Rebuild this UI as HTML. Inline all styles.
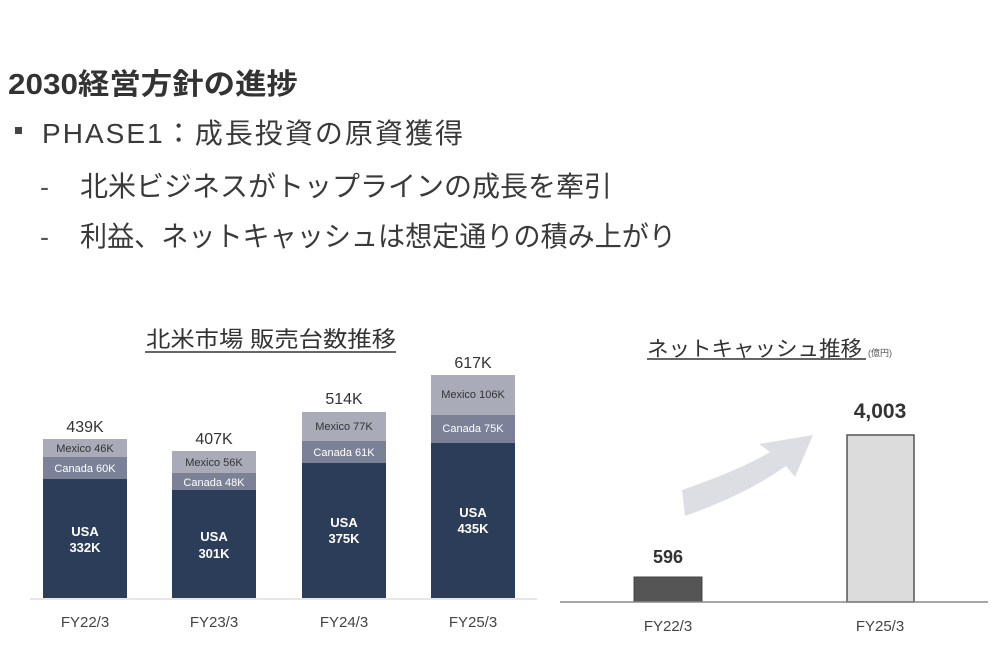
<!DOCTYPE html>
<html><head><meta charset="utf-8"><style>
html,body{margin:0;padding:0;background:#fff;width:1000px;height:667px;overflow:hidden}
</style></head><body>
<svg width="1000" height="667" viewBox="0 0 1000 667" xmlns="http://www.w3.org/2000/svg" font-family="'Liberation Sans','Noto Sans CJK JP',sans-serif">
<text x="8" y="94" font-size="29" font-weight="bold" fill="#333" textLength="290" lengthAdjust="spacingAndGlyphs">2030経営方針の進捗</text>
<rect x="15" y="127" width="7" height="7" fill="#444"/>
<text x="42" y="143" font-size="28" fill="#3a3a3a" textLength="421" lengthAdjust="spacing">PHASE1：成長投資の原資獲得</text>
<text x="40" y="196" font-size="27" fill="#555">-</text>
<text x="80" y="196" font-size="28" fill="#3a3a3a" textLength="532" lengthAdjust="spacing">北米ビジネスがトップラインの成長を牽引</text>
<text x="40" y="246" font-size="27" fill="#555">-</text>
<text x="80" y="246" font-size="28" fill="#3a3a3a" textLength="596" lengthAdjust="spacingAndGlyphs">利益、ネットキャッシュは想定通りの積み上がり</text>

<!-- left chart -->
<text x="146" y="347" font-size="22" fill="#333" textLength="250" lengthAdjust="spacingAndGlyphs">北米市場 販売台数推移</text>
<line x1="145" y1="352" x2="396" y2="352" stroke="#333" stroke-width="1.5"/>
<line x1="30" y1="599" x2="537" y2="599" stroke="#ddd" stroke-width="1.5"/>
<g font-size="11" text-anchor="middle">
<rect x="43" y="439" width="84" height="18" fill="#a9abb9"/><rect x="43" y="457" width="84" height="22" fill="#7b8196"/><rect x="43" y="479" width="84" height="119" fill="#2b3d58"/>
<text x="85" y="452" fill="#333">Mexico 46K</text><text x="85" y="472" fill="#fff">Canada 60K</text>
<text x="85" y="536" fill="#fff" font-weight="bold" font-size="13">USA</text><text x="85" y="552" fill="#fff" font-weight="bold" font-size="13">332K</text>
<text x="85" y="432" fill="#333" font-size="16">439K</text>

<rect x="172" y="451" width="84" height="22" fill="#a9abb9"/><rect x="172" y="473" width="84" height="17" fill="#7b8196"/><rect x="172" y="490" width="84" height="108" fill="#2b3d58"/>
<text x="214" y="466" fill="#333">Mexico 56K</text><text x="214" y="486" fill="#fff">Canada 48K</text>
<text x="214" y="541" fill="#fff" font-weight="bold" font-size="13">USA</text><text x="214" y="558" fill="#fff" font-weight="bold" font-size="13">301K</text>
<text x="214" y="444" fill="#333" font-size="16">407K</text>

<rect x="302" y="412" width="84" height="29" fill="#a9abb9"/><rect x="302" y="441" width="84" height="22" fill="#7b8196"/><rect x="302" y="463" width="84" height="135" fill="#2b3d58"/>
<text x="344" y="430" fill="#333">Mexico 77K</text><text x="344" y="456" fill="#fff">Canada 61K</text>
<text x="344" y="527" fill="#fff" font-weight="bold" font-size="13">USA</text><text x="344" y="543" fill="#fff" font-weight="bold" font-size="13">375K</text>
<text x="344" y="404" fill="#333" font-size="16">514K</text>

<rect x="431" y="375" width="84" height="40" fill="#a9abb9"/><rect x="431" y="415" width="84" height="28" fill="#7b8196"/><rect x="431" y="443" width="84" height="155" fill="#2b3d58"/>
<text x="473" y="398" fill="#333">Mexico 106K</text><text x="473" y="432" fill="#fff">Canada 75K</text>
<text x="473" y="517" fill="#fff" font-weight="bold" font-size="13">USA</text><text x="473" y="533" fill="#fff" font-weight="bold" font-size="13">435K</text>
<text x="473" y="368" fill="#333" font-size="16">617K</text>
</g>
<g font-size="15" fill="#444" text-anchor="middle">
<text x="85" y="627">FY22/3</text><text x="214" y="627">FY23/3</text><text x="344" y="627">FY24/3</text><text x="473" y="627">FY25/3</text>
</g>

<!-- right chart -->
<text x="647" y="356" font-size="21" fill="#333" textLength="215" lengthAdjust="spacingAndGlyphs">ネットキャッシュ推移</text>
<text x="868" y="356" font-size="9" fill="#555">(億円)</text>
<line x1="647" y1="359" x2="866" y2="359" stroke="#333" stroke-width="1.5"/>
<path d="M682,490 Q740,470 770,452 L759,444 L813,435 L795,477 L786,466 Q745,495 685,516 Z" fill="#dcdee3"/>
<rect x="634" y="577" width="68" height="25" fill="#555" stroke="#444"/>
<rect x="847" y="435" width="67" height="167" fill="#dcdcdc" stroke="#555" stroke-width="1.5"/>
<line x1="560" y1="602" x2="988" y2="602" stroke="#888" stroke-width="1.5"/>
<text x="668" y="563" font-size="18" font-weight="bold" fill="#333" text-anchor="middle">596</text>
<text x="880" y="418" font-size="21" font-weight="bold" fill="#333" text-anchor="middle">4,003</text>
<text x="668" y="631" font-size="15" fill="#444" text-anchor="middle">FY22/3</text>
<text x="880" y="631" font-size="15" fill="#444" text-anchor="middle">FY25/3</text>
</svg>
</body></html>
